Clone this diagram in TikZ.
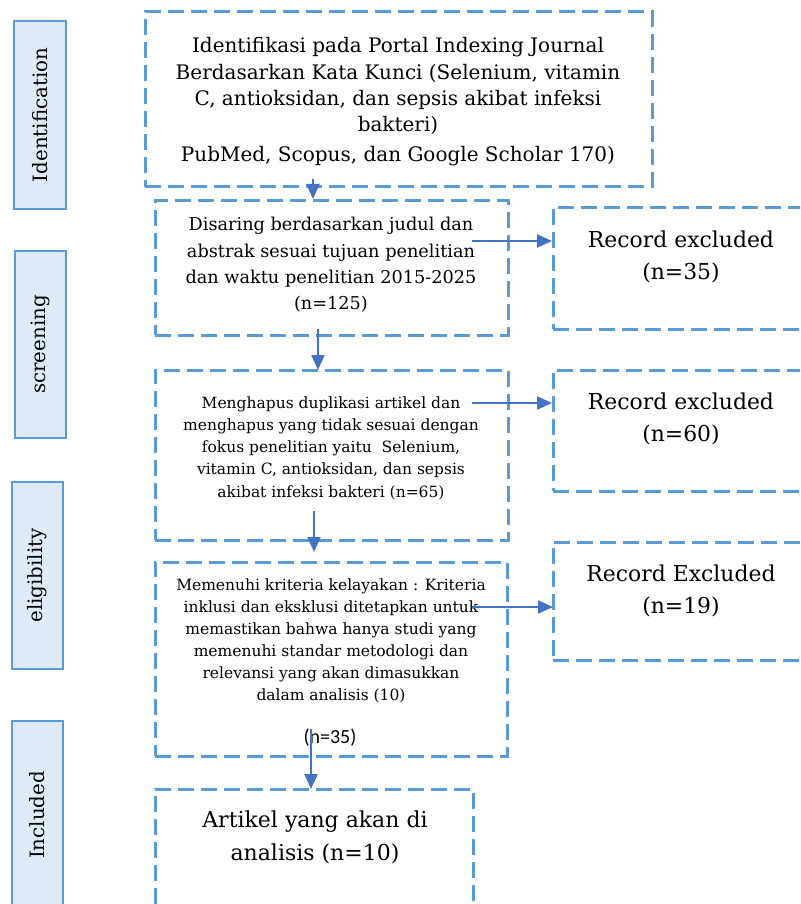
\documentclass[tikz,border=0pt]{standalone}
\usepackage{fontspec}
\setmainfont{DejaVu Serif}
\newfontfamily\carlito{Carlito}
\usetikzlibrary{arrows.meta}
\definecolor{boxblue}{HTML}{5B9BD5}
\definecolor{arrowblue}{HTML}{4472C4}
\definecolor{labelfill}{HTML}{DEEBF7}
\begin{document}
\begin{tikzpicture}[x=1pt,y=-1pt,
  dbox/.style={draw=boxblue, line width=3pt, dash pattern=on 16pt off 7pt, inner sep=0pt},
  sidelabel/.style={draw=boxblue, fill=labelfill, line width=1.8pt, inner sep=0pt},
  sidetext/.style={rotate=90, inner sep=0pt, font=\fontsize{19.8}{22}\selectfont},
  flow/.style={draw=arrowblue, line width=2.2pt, -{Triangle[length=15pt,width=13pt]}},
  txt/.style={align=center, inner sep=0pt, text=black}]
\useasboundingbox (0,0) rectangle (800,904);
\clip (0,0) rectangle (800,904);

% side labels
\node[sidelabel, minimum width=52pt, minimum height=188pt] (lid) at (40,115) {};
\node[sidetext] (tid) at (lid.center) {Identification};
\node[sidelabel, minimum width=51pt, minimum height=187pt] (lsc) at (40.5,344.5) {};
\node[sidetext] (tsc) at (lsc.center) {screening};
\node[sidelabel, minimum width=51pt, minimum height=187pt] (lel) at (37.5,575.5) {};
\node[sidetext] (tel) at (lel.center) {eligibility};
\node[sidelabel, minimum width=51pt, minimum height=200pt] (lin) at (37.5,821) {};
\node[sidetext] (tin) at (37.5,815) {Included};

% main boxes
\node[dbox, minimum width=507pt, minimum height=175pt] (b1) at (398.5,99.5) {};
\node[dbox, minimum width=353pt, minimum height=135pt] (b2) at (331.5,267.5) {};
\node[dbox, minimum width=353pt, minimum height=170pt] (b3) at (331.5,455) {};
\node[dbox, minimum width=352pt, minimum height=194pt] (b4) at (331,659) {};
\node[dbox, minimum width=318pt, minimum height=116pt] (b5) at (314,847) {};

% right boxes
\node[dbox, minimum width=260pt, minimum height=122pt] (r1) at (683,268) {};
\node[dbox, minimum width=260pt, minimum height=121pt] (r2) at (683,430.5) {};
\node[dbox, minimum width=260pt, minimum height=118pt] (r3) at (683,601) {};

% texts
\node[txt, font=\fontsize{20}{26.3}\selectfont] (t1) at (398,102)
  {Identifikasi pada Portal Indexing Journal\\
   Berdasarkan Kata Kunci (Selenium, vitamin\\
   C, antioksidan, dan sepsis akibat infeksi\\
   bakteri)\\[4pt]
   PubMed, Scopus, dan Google Scholar 170)};
\node[txt, font=\fontsize{17.7}{26.3}\selectfont] (t2) at (331,265)
  {Disaring berdasarkan judul dan\\
   abstrak sesuai tujuan penelitian\\
   dan waktu penelitian 2015-2025\\
   (n=125)};
\node[txt, font=\fontsize{15.5}{22.2}\selectfont] (t3) at (331,448)
  {Menghapus duplikasi artikel dan\\
   menghapus yang tidak sesuai dengan\\
   fokus penelitian yaitu \ Selenium,\\
   vitamin C, antioksidan, dan sepsis\\
   akibat infeksi bakteri (n=65)};
\node[txt, font=\fontsize{15.5}{22}\selectfont] (t4) at (331,641)
  {Memenuhi kriteria kelayakan : Kriteria\\
   inklusi dan eksklusi ditetapkan untuk\\
   memastikan bahwa hanya studi yang\\
   memenuhi standar metodologi dan\\
   relevansi yang akan dimasukkan\\
   dalam analisis (10)};
\node[txt, font=\carlito\fontsize{20}{22}\selectfont] (t4n) at (330,738) {(n=35)};
\node[txt, font=\fontsize{21.9}{32}\selectfont] (tr1) at (681,257) {Record excluded\\(n=35)};
\node[txt, font=\fontsize{21.9}{32}\selectfont] (tr2) at (681,419) {Record excluded\\(n=60)};
\node[txt, font=\fontsize{21.9}{32}\selectfont] (tr3) at (681,591) {Record Excluded\\(n=19)};
\node[txt, font=\fontsize{22}{33}\selectfont] (t5) at (315,837) {Artikel yang akan di\\analisis (n=10)};

% connector end points
\coordinate (a1s) at (313,179);  \coordinate (a1e) at (313,199);
\coordinate (a2s) at (318,329);  \coordinate (a2e) at (318,370);
\coordinate (a3s) at (472,241);  \coordinate (a3e) at (552,241);
\coordinate (a4s) at (472,403);  \coordinate (a4e) at (552,403);
\coordinate (a5s) at (314,511);  \coordinate (a5e) at (314,552);
\coordinate (a6s) at (472,607);  \coordinate (a6e) at (553,607);
\coordinate (a7s) at (311,729);  \coordinate (a7e) at (311,789);

\draw[flow] (a1s) -- (a1e);
\draw[flow] (a2s) -- (a2e);
\draw[flow] (a3s) -- (a3e);
\draw[flow] (a4s) -- (a4e);
\draw[flow] (a5s) -- (a5e);
\draw[flow] (a6s) -- (a6e);
\draw[flow] (a7s) -- (a7e);
\end{tikzpicture}
\end{document}
